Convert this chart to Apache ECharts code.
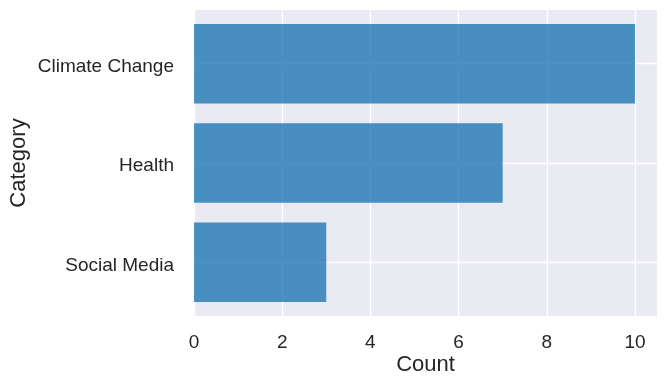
<!DOCTYPE html>
<html>
<head>
<meta charset="utf-8">
<script src="https://cdn.jsdelivr.net/npm/echarts@6/dist/echarts.min.js"></script>
<style>
html,body{margin:0;padding:0;background:#fff;}
#chart{width:668px;height:388px;}
</style>
</head>
<body>
<div id="chart"></div>
<script>
const categories = ['Climate Change', 'Health', 'Social Media'];
const counts = [10, 7, 3];
const xTicks = [0, 2, 4, 6, 8, 10];

const FONT = 'Liberation Sans, Arial, sans-serif';
const TXT = '#262626';

const chart = echarts.init(document.getElementById('chart'));
chart.setOption({
  animation: false,
  grid: {
    left: 194, right: 11, top: 10, bottom: 72,
    containLabel: false, outerBoundsMode: 'none',
    show: true, backgroundColor: '#eaeaf2', borderWidth: 0
  },
  xAxis: {
    type: 'value', min: 0, max: 10.5,
    name: 'Count', nameLocation: 'middle', nameGap: 38, nameMoveOverlap: false,
    nameTextStyle: { fontFamily: FONT, fontSize: 22, color: TXT },
    axisLine: { show: false },
    axisTick: { show: false, customValues: xTicks },
    axisLabel: { customValues: xTicks, fontFamily: FONT, fontSize: 19, color: TXT, margin: 17 },
    splitLine: { show: true, lineStyle: { color: '#ffffff', width: 1.3 } }
  },
  yAxis: {
    type: 'value', min: -0.54, max: 2.54, inverse: true,
    name: 'Category', nameLocation: 'middle', nameGap: 164, nameMoveOverlap: false,
    nameTextStyle: { fontFamily: FONT, fontSize: 22, color: TXT },
    axisLine: { show: false },
    axisTick: { show: false, customValues: [0, 1, 2] },
    axisLabel: {
      customValues: [0, 1, 2],
      formatter: v => '{c|' + categories[Math.round(v)] + '}',
      margin: 20,
      rich: {
        c: { fontFamily: FONT, fontSize: 19, color: TXT, padding: [6, 0, 0, 0] }
      }
    },
    splitLine: { show: true, lineStyle: { color: '#ffffff', width: 1.3 } }
  },
  series: [{
    type: 'custom',
    data: counts.map((c, i) => [c, i]),
    encode: { x: 0, y: 1 },
    renderItem: function (params, api) {
      const v = api.value(0), idx = api.value(1);
      const p0 = api.coord([0, idx]);
      const p1 = api.coord([v, idx]);
      const h = Math.abs(api.size([0, 0.8])[1]);
      return {
        type: 'rect',
        shape: { x: p0[0], y: p0[1] - h / 2, width: p1[0] - p0[0], height: h },
        style: { fill: 'rgba(31,119,180,0.8)' }
      };
    }
  }]
});
</script>
</body>
</html>
